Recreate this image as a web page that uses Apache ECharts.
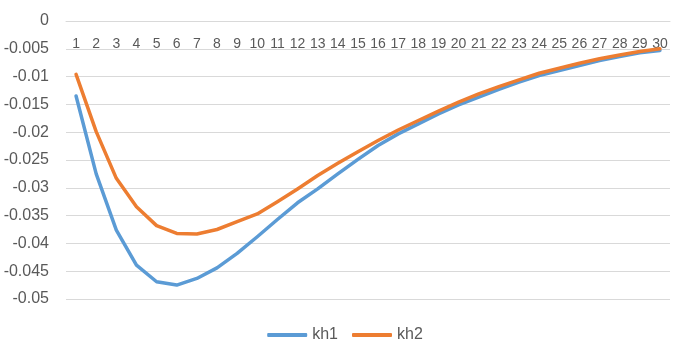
<!DOCTYPE html>
<html>
<head>
<meta charset="utf-8">
<script src="https://cdn.jsdelivr.net/npm/echarts@6/dist/echarts.min.js"></script>
<style>html,body{margin:0;padding:0;background:#fff}#c{width:690px;height:353px}</style>
</head>
<body>
<div id="c"></div>
<script>
const categories = ['1','2','3','4','5','6','7','8','9','10','11','12','13','14','15','16','17','18','19','20','21','22','23','24','25','26','27','28','29','30'];
const kh1 = [-0.0135,-0.0275,-0.0376,-0.0439,-0.0469,-0.0475,-0.0463,-0.0444,-0.0418,-0.0388,-0.0357,-0.0327,-0.0302,-0.0275,-0.0249,-0.0224,-0.0203,-0.0185,-0.0167,-0.0151,-0.0137,-0.0123,-0.0110,-0.0098,-0.0089,-0.0080,-0.0071,-0.0064,-0.0057,-0.0053];
const kh2 = [-0.0096,-0.0199,-0.0283,-0.0334,-0.0368,-0.0382,-0.0383,-0.0375,-0.0361,-0.0347,-0.0325,-0.0302,-0.0278,-0.0256,-0.0235,-0.0215,-0.0196,-0.0179,-0.0162,-0.0146,-0.0131,-0.0118,-0.0106,-0.0094,-0.0085,-0.0076,-0.0068,-0.0061,-0.0055,-0.0050];
const yMin = -0.05, yMax = 0, yStep = 0.005;

const chart = echarts.init(document.getElementById('c'));
const font = "'Liberation Sans', Arial, sans-serif";
chart.setOption({
  animation: false,
  textStyle: { fontFamily: font },
  grid: { left: 66, right: 20, top: 21, bottom: 54 },
  legend: {
    bottom: 5, left: 'center', icon: 'roundRect',
    itemWidth: 40, itemHeight: 4, itemGap: 14,
    textStyle: { fontSize: 16, color: '#595959', fontFamily: font },
    data: ['kh1', 'kh2']
  },
  xAxis: {
    type: 'category', data: categories, boundaryGap: true, position: 'top',
    axisLine: { onZero: false, lineStyle: { color: '#d9d9d9', width: 1 } },
    axisTick: { show: false },
    axisLabel: { inside: true, interval: 0, fontSize: 14, color: '#595959', margin: 16, fontFamily: font }
  },
  yAxis: {
    type: 'value', min: yMin, max: yMax, interval: yStep,
    axisLine: { show: false }, axisTick: { show: false },
    splitLine: { lineStyle: { color: '#d9d9d9', width: 1 } },
    axisLabel: { fontSize: 16, color: '#595959', margin: 17, fontFamily: font,
      formatter: v => (Math.round(v * 1000) / 1000).toString() }
  },
  series: [
    { name: 'kh1', type: 'line', data: kh1, symbol: 'none', smooth: false,
      lineStyle: { color: '#5B9BD5', width: 3.5, cap: 'round', join: 'round' }, itemStyle: { color: '#5B9BD5' } },
    { name: 'kh2', type: 'line', data: kh2, symbol: 'none', smooth: false,
      lineStyle: { color: '#ED7D31', width: 3.5, cap: 'round', join: 'round' }, itemStyle: { color: '#ED7D31' } }
  ]
});
</script>
</body>
</html>
